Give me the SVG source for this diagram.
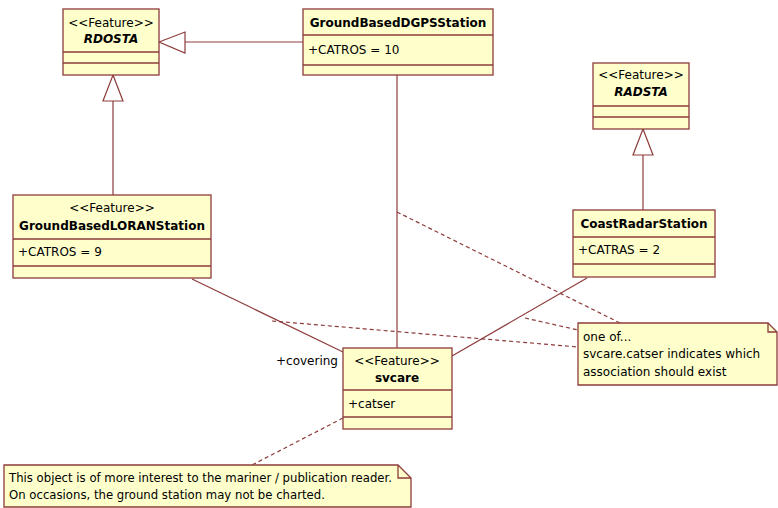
<svg xmlns="http://www.w3.org/2000/svg" width="778" height="508" viewBox="0 0 778 508">
<style>
.box{fill:#FFFFCC;stroke:#8E3B3B;stroke-width:1.3}
.div{stroke:#8E3B3B;stroke-width:1.3;fill:none}
.ln{stroke:#8E3B3B;stroke-width:1.2;fill:none}
.dash{stroke:#8E3B3B;stroke-width:1.2;fill:none;stroke-dasharray:4,3}
.tri{fill:#FFFFFF;stroke:#8E3B3B;stroke-width:1.2}
text{font-family:"DejaVu Sans","Liberation Sans",sans-serif;font-size:12px;fill:#000}
.st{text-anchor:middle}
.nm{font-weight:bold;font-size:12px;text-anchor:middle}
.ab{font-weight:bold;font-style:italic;font-size:12px;text-anchor:middle}
.nt{font-size:11.7px}
</style>
<rect width="778" height="508" fill="#FFFFFF"/>
<g id="connectors">
  <line class="ln" x1="113" y1="195" x2="113" y2="101"/>
  <polygon class="tri" points="113,75 103,101 123,101"/>
  <line class="ln" x1="303" y1="42" x2="185" y2="42"/>
  <polygon class="tri" points="159,42 185,32 185,53"/>
  <line class="ln" x1="643" y1="210" x2="643" y2="155"/>
  <polygon class="tri" points="643,129 633,155 653,155"/>
  <line class="ln" x1="397" y1="75" x2="397" y2="348"/>
  <line class="ln" x1="192" y1="279" x2="343" y2="352"/>
  <line class="ln" x1="587" y1="278" x2="452" y2="356"/>
  <line class="dash" x1="397" y1="212" x2="620" y2="323"/>
  <line class="dash" x1="525" y1="318" x2="578" y2="330"/>
  <line class="dash" x1="272" y1="321" x2="578" y2="347"/>
  <line class="dash" x1="343" y1="418" x2="252" y2="465"/>
  <text x="276" y="365">+covering</text>
</g>
<g id="RDOSTA">
  <rect class="box" x="63" y="9" width="96" height="66"/>
  <line class="div" x1="63" y1="52" x2="159" y2="52"/>
  <line class="div" x1="63" y1="63" x2="159" y2="63"/>
  <text class="st" x="111" y="27">&lt;&lt;Feature&gt;&gt;</text>
  <text class="ab" x="111" y="43">RDOSTA</text>
</g>
<g id="GroundBasedDGPSStation">
  <rect class="box" x="303" y="9" width="190" height="66"/>
  <line class="div" x1="303" y1="35" x2="493" y2="35"/>
  <line class="div" x1="303" y1="65" x2="493" y2="65"/>
  <text class="nm" x="398" y="27">GroundBasedDGPSStation</text>
  <text x="308" y="54">+CATROS = 10</text>
</g>
<g id="GroundBasedLORANStation">
  <rect class="box" x="13" y="195" width="198" height="83"/>
  <line class="div" x1="13" y1="239" x2="211" y2="239"/>
  <line class="div" x1="13" y1="266" x2="211" y2="266"/>
  <text class="st" x="112" y="212">&lt;&lt;Feature&gt;&gt;</text>
  <text class="nm" x="112" y="230">GroundBasedLORANStation</text>
  <text x="18" y="256">+CATROS = 9</text>
</g>
<g id="RADSTA">
  <rect class="box" x="593" y="63" width="96" height="66"/>
  <line class="div" x1="593" y1="106" x2="689" y2="106"/>
  <line class="div" x1="593" y1="117" x2="689" y2="117"/>
  <text class="st" x="641" y="79">&lt;&lt;Feature&gt;&gt;</text>
  <text class="ab" x="641" y="96">RADSTA</text>
</g>
<g id="CoastRadarStation">
  <rect class="box" x="573" y="210" width="142" height="67"/>
  <line class="div" x1="573" y1="237" x2="715" y2="237"/>
  <line class="div" x1="573" y1="264" x2="715" y2="264"/>
  <text class="nm" x="644" y="228">CoastRadarStation</text>
  <text x="578" y="254">+CATRAS = 2</text>
</g>
<g id="svcare">
  <rect class="box" x="343" y="348" width="109" height="81"/>
  <line class="div" x1="343" y1="390" x2="452" y2="390"/>
  <line class="div" x1="343" y1="417" x2="452" y2="417"/>
  <text class="st" x="397" y="365">&lt;&lt;Feature&gt;&gt;</text>
  <text class="nm" x="397" y="382">svcare</text>
  <text x="348" y="408">+catser</text>
</g>
<g id="note-oneof">
  <path class="box" d="M578,323 H768 L777,332 V385 H578 Z"/>
  <path class="div" d="M768,323 V332 H777"/>
  <text x="583" y="341">one of...</text>
  <text x="583" y="358">svcare.catser indicates which</text>
  <text x="583" y="376">association should exist</text>
</g>
<g id="note-mariner">
  <path class="box" d="M4,465 H398 L411,478 V507 H4 Z"/>
  <path class="div" d="M398,465 V478 H411"/>
  <text class="nt" x="9" y="482">This object is of more interest to the mariner / publication reader.</text>
  <text class="nt" x="9" y="499">On occasions, the ground station may not be charted.</text>
</g>
</svg>
